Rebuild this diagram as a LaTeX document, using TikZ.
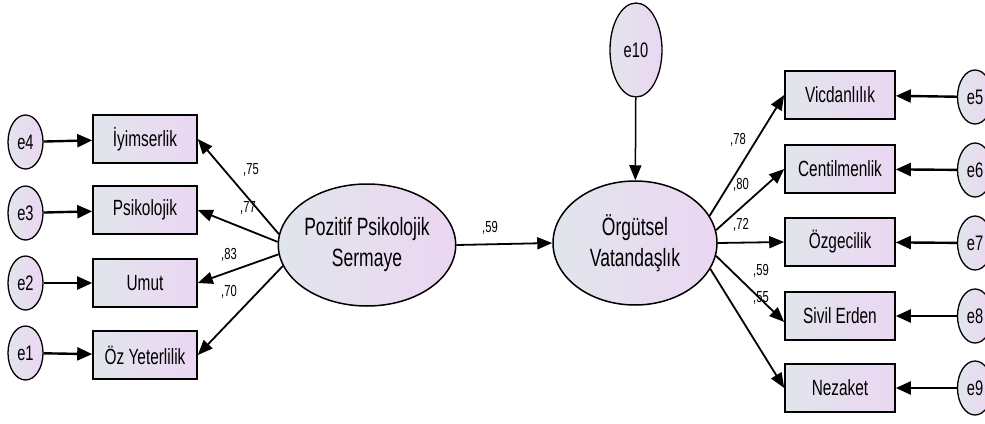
\documentclass[tikz,border=0pt]{standalone}
\usepackage{fontspec}
\setmainfont[FakeStretch=0.7]{Liberation Sans}
\usetikzlibrary{shapes.geometric,arrows.meta}
\definecolor{fillL}{HTML}{E1E5EC}
\definecolor{fillR}{HTML}{EBD6F2}
\begin{document}
\begin{tikzpicture}[x=1pt,y=-1pt,
  obs/.style={draw=black, line width=1.6pt, left color=fillL, right color=fillR,
    minimum height=48pt, inner sep=0pt, font=\fontsize{22}{24}\selectfont},
  err/.style={ellipse, draw=black, line width=1.3pt, left color=fillL, right color=fillR,
    minimum width=35pt, minimum height=54pt, inner sep=0pt, font=\fontsize{21}{23}\selectfont},
  lat/.style={ellipse, draw=black, line width=1.5pt, left color=fillL, right color=fillR,
    minimum width=166pt, minimum height=122pt, inner sep=0pt, align=center,
    font=\fontsize{25}{31}\selectfont},
  pth/.style={line width=1.8pt, -{Triangle[length=15pt,width=12pt]}},
  epth/.style={line width=2.4pt, -{Triangle[length=15pt,width=13pt]}},
  coef/.style={font=\fontsize{16}{18}\selectfont, inner sep=0pt}
]
\useasboundingbox (0,0) rectangle (985,423);

% left error terms
\node[err] (e4) at (25.5,142) {e4};
\node[err] (e3) at (25.5,213) {e3};
\node[err] (e2) at (25.5,283) {e2};
\node[err] (e1) at (25.5,353) {e1};

% left indicators
\node[obs, minimum width=104pt] (iyi) at (145,139) {İyimserlik};
\node[obs, minimum width=104pt] (psi) at (145,210) {Psikolojik};
\node[obs, minimum width=104pt] (umu) at (145,283) {Umut};
\node[obs, minimum width=104pt] (ozy) at (145,355) {Öz Yeterlilik};

% latents
\node[lat] (poz) at (367,245) {Pozitif Psikolojik\\Sermaye};
\node[lat, minimum width=164pt, minimum height=124pt] (org) at (635,243) {Örgütsel\\Vatandaşlık};
\node[err, minimum width=52pt, minimum height=94pt] (e10) at (636,50) {e10};

% right indicators
\node[obs, minimum width=110pt] (vic) at (840,95) {Vicdanlılık};
\node[obs, minimum width=110pt] (cen) at (840,169) {Centilmenlik};
\node[obs, minimum width=110pt] (ozg) at (840,242) {Özgecilik};
\node[obs, minimum width=110pt] (siv) at (840,316) {Sivil Erden};
\node[obs, minimum width=110pt] (nez) at (840,388) {Nezaket};

% right error terms
\node[err] (e5) at (975,97) {e5};
\node[err] (e6) at (975,170) {e6};
\node[err] (e7) at (975,243) {e7};
\node[err] (e8) at (975,316) {e8};
\node[err] (e9) at (975,388) {e9};

% error arrows
\draw[epth] (e4) -- (iyi);
\draw[epth] (e3) -- (psi);
\draw[epth] (e2) -- (umu);
\draw[epth] (e1) -- (ozy);
\draw[epth] (e5) -- (vic);
\draw[epth] (e6) -- (cen);
\draw[epth] (e7) -- (ozg);
\draw[epth] (e8) -- (siv);
\draw[epth] (e9) -- (nez);
\draw[line width=1.5pt, -{Triangle[length=15pt,width=12pt]}] (e10) -- (org);

% loadings left
\draw[pth] (poz.173) -- (iyi.east);
\draw[pth] (poz.178) -- (psi.east);
\draw[pth] (poz.186) -- (umu.east);
\draw[pth] (poz.194) -- (ozy.east);

% structural path
\draw[pth] (poz.east) -- (org.west);

% loadings right
\draw[pth] (org.20) -- (vic.west);
\draw[pth] (org.9) -- (cen.west);
\draw[pth] (org.0) -- (ozg.west);
\draw[pth] (org.-9) -- ([yshift=-6pt]siv.west);
\draw[pth] (org.-19) -- (nez.west);

% coefficients
\node[coef] (c75) at (251,170) {,75};
\node[coef] (c77) at (248,208) {,77};
\node[coef] (c83) at (229,255) {,83};
\node[coef] (c70) at (229,292) {,70};
\node[coef] (c59) at (490,228) {,59};
\node[coef] (c78) at (738,140) {,78};
\node[coef] (c80) at (741,185) {,80};
\node[coef] (c72) at (741,225) {,72};
\node[coef] (c59b) at (761,271) {,59};
\node[coef] (c55) at (761,298) {,55};
\end{tikzpicture}
\end{document}
